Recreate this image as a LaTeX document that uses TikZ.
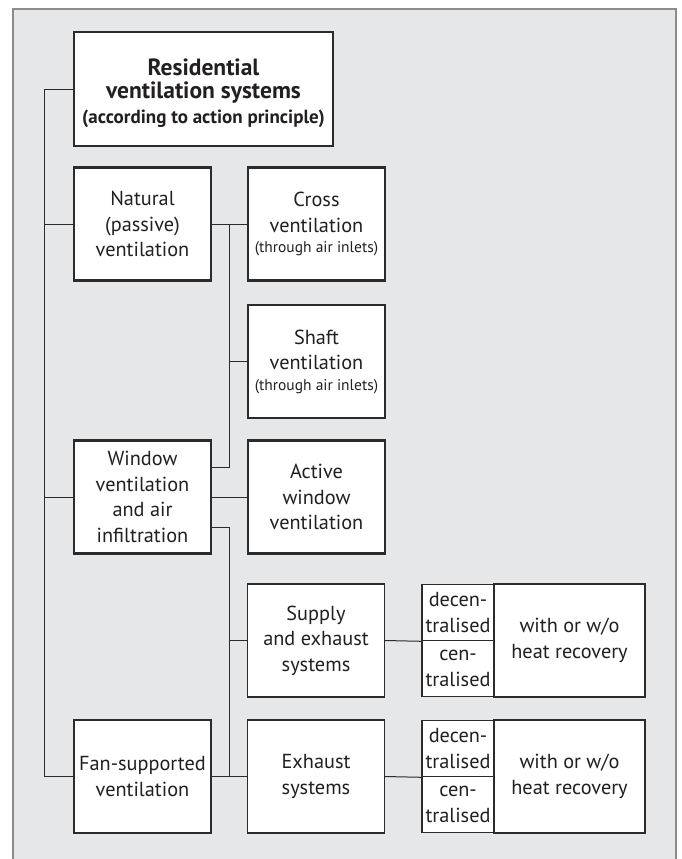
\documentclass[tikz,border=0pt]{standalone}
\usepackage{fontspec}
\setmainfont{PT Sans}
\definecolor{panel}{HTML}{E6E7E8}
\definecolor{pborder}{HTML}{8C8C8C}
\definecolor{lc}{HTML}{2B2B2B}
\definecolor{tc}{HTML}{231F20}
\newcommand{\mainsz}{\fontsize{20.3}{25.5}\selectfont}
\newcommand{\smallsz}{\fontsize{15.5}{19}\selectfont}
\newcommand{\titlesz}{\fontsize{23.5}{23.5}\selectfont\bfseries}
\newcommand{\subtsz}{\fontsize{19}{23.5}\selectfont\bfseries}
\tikzset{
  box/.style={draw=lc, fill=white, text=tc, align=center, inner sep=0pt,
              minimum width=137pt, minimum height=113pt, font=\mainsz},
  thickbox/.style={box, line width=2.3pt},
  thinbox/.style={box, line width=1.1pt},
  titlebox/.style={box, line width=1.2pt, minimum width=259pt, minimum height=114pt, font=\titlesz},
  halfbox/.style={box, line width=1.1pt, minimum width=72pt, minimum height=56.5pt},
  heatbox/.style={box, line width=1.1pt, minimum width=151pt, minimum height=113pt},
  conn/.style={draw=lc, line width=1pt},
}
\begin{document}
\begin{tikzpicture}[x=1pt, y=-1pt]
\useasboundingbox (0,0) rectangle (682,859);
\draw[fill=panel, draw=pborder, line width=1.2pt] (13,9) rectangle (676,880);

\node[titlebox] (title) at (203.5,89) {\rule{0pt}{25pt}Residential\\ventilation systems\\[1pt]\subtsz (according to action principle)};

\node[thickbox] (nat) at (142.5,224) {Natural\\(passive)\\ventilation};
\node[thickbox] (cross) at (316.5,224) {Cross\\ventilation\\[-5pt]\smallsz (through air inlets)};
\node[thickbox] (shaft) at (316.5,361.5) {Shaft\\ventilation\\[-5pt]\smallsz (through air inlets)};
\node[thickbox] (window) at (142.5,497) {Window\\ventilation\\and air\\infiltration};
\node[thickbox] (active) at (316.5,497) {Active\\window\\ventilation};

\node[thinbox] (supply) at (316,640.5) {Supply\\and exhaust\\systems};
\node[thinbox] (exh) at (316,776.5) {Exhaust\\systems};
\node[thinbox] (fan) at (142.5,776.5) {Fan-supported\\ventilation};

\node[halfbox] (dec1) at (458,612.5) {decen-\\tralised};
\node[halfbox] (cen1) at (458,668.5) {cen-\\tralised};
\node[heatbox] (heat1) at (569.5,640.5) {with or w/o\\heat recovery};
\node[halfbox] (dec2) at (458,748.5) {decen-\\tralised};
\node[halfbox] (cen2) at (458,804.5) {cen-\\tralised};
\node[heatbox] (heat2) at (569.5,776.5) {with or w/o\\heat recovery};

\coordinate (tr) at (44,0);
\coordinate (vx) at (229,0);
\coordinate (wu) at (211,467);
\coordinate (wl) at (211,527);

\draw[conn] (title.west) -- (title.west -| tr) -- (fan.west -| tr) -- (fan.west);
\draw[conn] (nat.west -| tr) -- (nat.west);
\draw[conn] (window.west -| tr) -- (window.west);
\draw[conn] (nat.east) -- (cross.west);
\draw[conn] (nat.east -| vx) -- (wu -| vx) -- (wu);
\draw[conn] (shaft.west -| vx) -- (shaft.west);
\draw[conn] (window.east) -- (active.west);
\draw[conn] (wl) -- (wl -| vx) -- (exh.west -| vx);
\draw[conn] (fan.east) -- (exh.west);
\draw[conn] (supply.west -| vx) -- (supply.west);
\draw[conn] (supply.east) -- (dec1.south west);
\draw[conn] (exh.east) -- (dec2.south west);
\end{tikzpicture}
\end{document}
